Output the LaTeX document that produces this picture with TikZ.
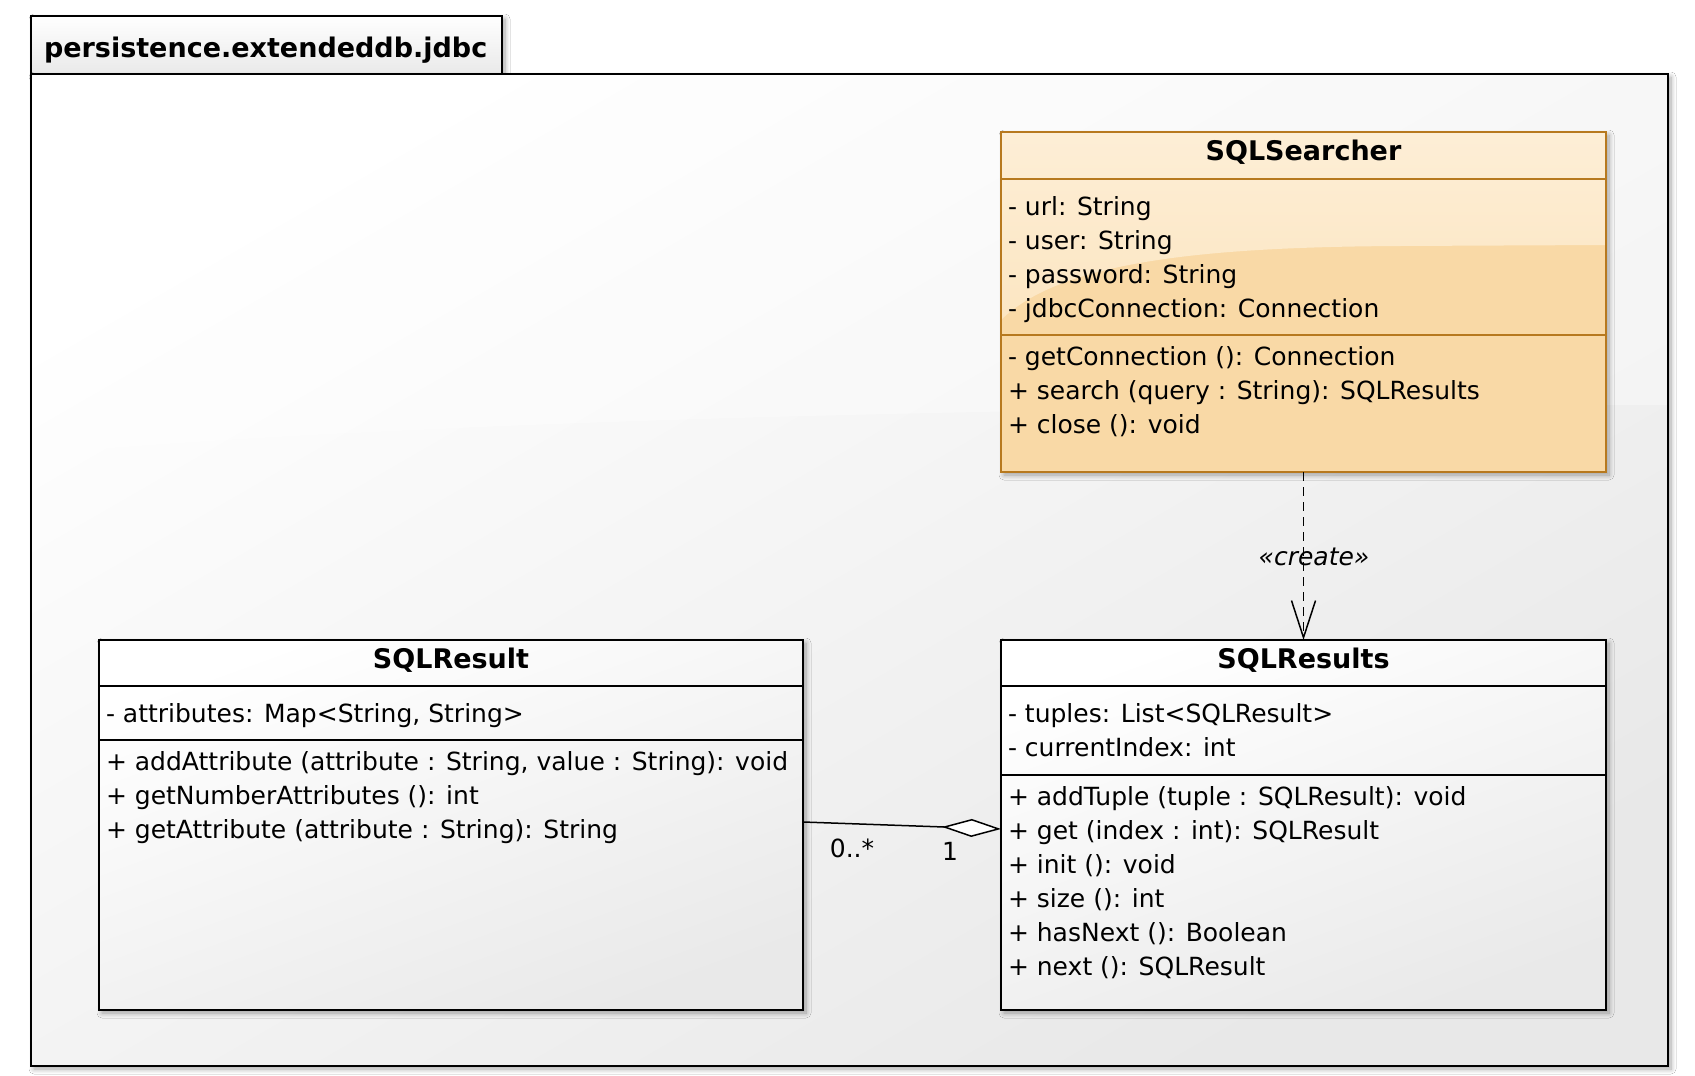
\documentclass[tikz,border=0pt]{standalone}
\usepackage{fontspec}
\setmainfont{DejaVu Sans}
\usetikzlibrary{arrows.meta,calc,shadows.blur}
\definecolor{sborder}{RGB}{183,121,31}
\definecolor{sglossA}{RGB}{253,238,214}
\definecolor{sglossB}{RGB}{252,230,194}
\definecolor{sbot}{RGB}{249,217,166}
\definecolor{gbot}{RGB}{233,233,233}
\definecolor{pbot}{RGB}{232,232,232}
\begin{document}
\begin{tikzpicture}[x=1pt,y=-1pt,
  txt/.style={font=\fontsize{25pt}{30pt}\selectfont, inner sep=0pt, outer sep=0pt, anchor=base west},
  ttl/.style={font=\fontsize{27pt}{32pt}\selectfont\bfseries, inner sep=0pt, outer sep=0pt, anchor=base},
  lbl/.style={font=\fontsize{25pt}{30pt}\selectfont, inner sep=0pt, outer sep=0pt, anchor=base},
  shad/.style={blur shadow={shadow xshift=3pt, shadow yshift=-3pt, shadow blur radius=5pt, shadow blur steps=8, shadow opacity=35}},
  frame/.style={rectangle, inner sep=0pt, outer sep=0pt, anchor=north west},
  pkgtab/.style={frame, draw=black, line width=1.7pt, shad, top color=white, bottom color=gbot},
  pkgbody/.style={frame, draw=black, line width=1.8pt, shad, shading=axis, top color=white, bottom color=pbot, shading angle=30},
  gbox/.style={frame, draw=black, line width=1.6pt, shad, shading=axis, top color=white, bottom color=gbot, shading angle=20},
  sbox/.style={frame, draw=sborder, line width=1.6pt, shad, fill=sbot},
  gline/.style={draw=black, line width=1.6pt},
  sline/.style={draw=sborder, line width=1.6pt},
  dep/.style={draw=black, line width=1.7pt, dash pattern=on 9pt off 6pt, -{Straight Barb[length=37pt, width=24pt, line width=1.5pt]}},
  agg/.style={draw=black, line width=1.5pt, -{Diamond[length=59pt, width=18pt, fill=white, line width=1.5pt]}}
]
\useasboundingbox (0,0) rectangle (1695,1076);
\fill[white] (0,0) rectangle (1695,1076);

% package
\node[pkgtab, minimum width=471pt, minimum height=58pt] (tab) at (31,16) {};
\node[pkgbody, minimum width=1637pt, minimum height=992pt] (body) at (31,74) {};
\begin{scope}
  \clip (body.north west) rectangle (body.south east);
  \fill[white, opacity=0.35] (31,74) -- (1668,74) -- (1668,405) .. controls (1100,405) and (400,420) .. (31,455) -- cycle;
\end{scope}
\draw[black, line width=1.8pt] (body.north west) rectangle (body.south east);
\node[ttl, anchor=base west] (pkgname) at (44,57) {persistence.extendeddb.jdbc};

% SQLSearcher
\node[sbox, minimum width=605pt, minimum height=340pt] (searcher) at (1001,132) {};
\begin{scope}
  \clip (searcher.north west) rectangle (searcher.south east);
  \shade[top color=sglossA, bottom color=sglossB] (1001,132) -- (1606,132) -- (1606,245) -- (1400,246) .. controls (1200,247) and (1060,262) .. (1001,320) -- cycle;
\end{scope}
\draw[sline] (searcher.north west) rectangle (searcher.south east);
\draw[sline] (searcher.west |- 0,179) -- (searcher.east |- 0,179);
\draw[sline] (searcher.west |- 0,335) -- (searcher.east |- 0,335);
\node[ttl] (searcherT) at (1303.5,160) {SQLSearcher};
\node[txt] (sa1) at (1008,215) {- url: String};
\node[txt] (sa2) at (1008,249) {- user: String};
\node[txt] (sa3) at (1008,283) {- password: String};
\node[txt] (sa4) at (1008,317) {- jdbcConnection: Connection};
\node[txt] (sm1) at (1008,365) {- getConnection (): Connection};
\node[txt] (sm2) at (1008,399) {+ search (query : String): SQLResults};
\node[txt] (sm3) at (1008,433) {+ close (): void};

% SQLResult
\node[gbox, minimum width=704pt, minimum height=370pt] (result) at (99,640) {};
\draw[gline] (result.west |- 0,686) -- (result.east |- 0,686);
\draw[gline] (result.west |- 0,740) -- (result.east |- 0,740);
\node[ttl] (resultT) at (451,668) {SQLResult};
\node[txt] (ra1) at (106,722) {- attributes: Map<String, String>};
\node[txt] (rm1) at (106,770) {+ addAttribute (attribute : String, value : String): void};
\node[txt] (rm2) at (106,804) {+ getNumberAttributes (): int};
\node[txt] (rm3) at (106,838) {+ getAttribute (attribute : String): String};

% SQLResults
\node[gbox, minimum width=605pt, minimum height=370pt] (results) at (1001,640) {};
\draw[gline] (results.west |- 0,686) -- (results.east |- 0,686);
\draw[gline] (results.west |- 0,775) -- (results.east |- 0,775);
\node[ttl] (resultsT) at (1303.5,668) {SQLResults};
\node[txt] (xa1) at (1008,722) {- tuples: List<SQLResult>};
\node[txt] (xa2) at (1008,756) {- currentIndex: int};
\node[txt] (xm1) at (1008,805) {+ addTuple (tuple : SQLResult): void};
\node[txt] (xm2) at (1008,839) {+ get (index : int): SQLResult};
\node[txt] (xm3) at (1008,873) {+ init (): void};
\node[txt] (xm4) at (1008,907) {+ size (): int};
\node[txt] (xm5) at (1008,941) {+ hasNext (): Boolean};
\node[txt] (xm6) at (1008,975) {+ next (): SQLResult};

% connectors
\draw[dep] (searcher.south) -- (results.north);
\node[lbl, font=\fontsize{25pt}{30pt}\selectfont\itshape] (create) at (1314,565) {«create»};
\draw[agg] ($(result.north east)+(0,182)$) -- ($(results.north west)+(0,189)$);
\node[lbl] (multA) at (852,857) {0..*};
\node[lbl] (multB) at (950,860) {1};
\end{tikzpicture}
\end{document}
